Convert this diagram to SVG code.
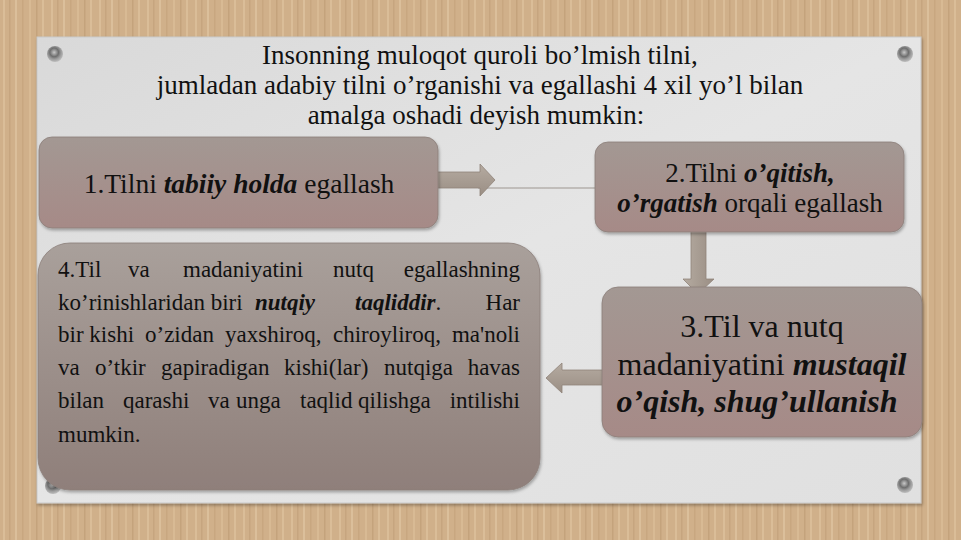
<svg xmlns="http://www.w3.org/2000/svg" width="961" height="540" viewBox="0 0 961 540">
<defs>
  <pattern id="wood" x="0" y="0" width="48" height="540" patternUnits="userSpaceOnUse">
    <rect width="48" height="540" fill="#d0b08a"/>
    <rect x="3" width="2" height="540" fill="#dabd98"/>
    <rect x="9" width="1.5" height="540" fill="#c6a57f"/>
    <rect x="15" width="2" height="540" fill="#dbbf9b"/>
    <rect x="22" width="1.5" height="540" fill="#c8a780"/>
    <rect x="29" width="2" height="540" fill="#d8ba94"/>
    <rect x="36" width="1.5" height="540" fill="#c4a37c"/>
    <rect x="42" width="2" height="540" fill="#dabd98"/>
  </pattern>
  <linearGradient id="panel" x1="0" y1="0" x2="1" y2="1">
    <stop offset="0" stop-color="#d9d9d9"/>
    <stop offset="0.5" stop-color="#e5e5e5"/>
    <stop offset="1" stop-color="#e0e0e0"/>
  </linearGradient>
  <linearGradient id="box" x1="0" y1="0" x2="0" y2="1">
    <stop offset="0" stop-color="#a39893"/>
    <stop offset="1" stop-color="#a68a87"/>
  </linearGradient>
  <linearGradient id="box4" x1="0" y1="0" x2="0" y2="1">
    <stop offset="0" stop-color="#a9a09b"/>
    <stop offset="1" stop-color="#8f7f7a"/>
  </linearGradient>
  <linearGradient id="arrowH" x1="0" y1="0" x2="0" y2="1">
    <stop offset="0" stop-color="#b5aba1"/>
    <stop offset="1" stop-color="#9a8e84"/>
  </linearGradient>
  <linearGradient id="arrowV" x1="0" y1="0" x2="1" y2="0">
    <stop offset="0" stop-color="#b5aba1"/>
    <stop offset="1" stop-color="#9a8e84"/>
  </linearGradient>
  <radialGradient id="pin" cx="0.45" cy="0.4" r="0.6">
    <stop offset="0" stop-color="#c8c8c8"/>
    <stop offset="0.45" stop-color="#6e6e6e"/>
    <stop offset="0.7" stop-color="#9a9a9a"/>
    <stop offset="1" stop-color="#bdbdbd"/>
  </radialGradient>
  <filter id="sh" x="-10%" y="-10%" width="120%" height="130%">
    <feDropShadow dx="1" dy="2" stdDeviation="1.5" flood-color="#000" flood-opacity="0.3"/>
  </filter>
</defs>
<style>
  text { fill: #111; }
  .bi { font-weight: bold; font-style: italic; }
  .node rect { stroke: #8c7f7a; stroke-width: 0.8; filter: url(#sh); }
  .arr { stroke: #8f8379; stroke-width: 0.8; }
</style>

<rect width="961" height="540" fill="url(#wood)"/>
<rect x="37" y="37" width="884" height="466" fill="url(#panel)" stroke="#c9c9c9" stroke-width="1" filter="url(#sh)"/>

<g id="pins">
  <circle cx="55" cy="54" r="8" fill="url(#pin)"/>
  <circle cx="905" cy="54" r="8" fill="url(#pin)"/>
  <circle cx="53" cy="486" r="8" fill="url(#pin)"/>
  <circle cx="905" cy="485" r="8" fill="url(#pin)"/>
</g>

<g font-family="Liberation Serif, Times New Roman, serif">
<g id="title" font-size="27" text-anchor="middle">
  <text x="480" y="64">Insonning muloqot quroli bo’lmish tilni,</text>
  <text x="480" y="94">jumladan adabiy tilni o’rganishi va egallashi 4 xil yo’l bilan</text>
  <text x="476" y="124">amalga oshadi deyish mumkin:</text>
</g>

<g id="connectors">
  <line x1="478" y1="188" x2="597" y2="188" stroke="#9d9690" stroke-width="1"/>
  <path class="arr" d="M425,172 H480 V164 L495,180 L480,196 V188 H425 Z" fill="url(#arrowH)"/>
  <rect x="425" y="172" width="5" height="16" fill="#c4b8ac" stroke="#8f8379" stroke-width="0.6"/>
  <path class="arr" d="M691,226 H706 V279 H714 L698,294 L683,279 H691 Z" fill="url(#arrowV)"/>
  <rect x="691" y="226" width="15" height="4" fill="#c4b8ac"/>
  <path class="arr" d="M618,370 H562 V363 L546,378 L562,393 V385 H618 Z" fill="url(#arrowH)"/>
</g>

<g id="node1" class="node">
  <rect x="39" y="137" width="399" height="91" rx="13" fill="url(#box)"/>
  <text x="239" y="193" font-size="27.5" text-anchor="middle">1.Tilni <tspan class="bi">tabiiy holda</tspan> egallash</text>
</g>

<g id="node2" class="node">
  <rect x="595" y="142" width="309" height="90" rx="13" fill="url(#box)"/>
  <text x="750" y="182" font-size="27" text-anchor="middle">2.Tilni <tspan class="bi">o’qitish,</tspan></text>
  <text x="750" y="212" font-size="27" text-anchor="middle"><tspan class="bi">o’rgatish</tspan> orqali egallash</text>
</g>

<g id="node3" class="node">
  <rect x="602" y="287" width="320" height="150" rx="16" fill="url(#box)"/>
  <text x="762" y="337" font-size="32" text-anchor="middle">3.Til va nutq</text>
  <text x="762" y="375" font-size="32" text-anchor="middle">madaniyatini <tspan class="bi">mustaqil</tspan></text>
  <text class="bi" x="757" y="412" font-size="32" text-anchor="middle">o’qish, shug’ullanish</text>
</g>

<g id="node4" class="node">
  <rect x="38" y="243" width="502" height="247" rx="32" fill="url(#box4)"/>
  <g font-size="23">
    <text y="277"><tspan x="58">4.Til</tspan><tspan x="128">va</tspan><tspan x="183">madaniyatini</tspan><tspan x="333">nutq</tspan></text>
    <text x="520" y="277" text-anchor="end">egallashning</text>
    <text y="310"><tspan x="58">ko’rinishlaridan biri</tspan><tspan x="255" class="bi">nutqiy</tspan><tspan x="355" class="bi">taqliddir</tspan>.</text>
    <text x="520" y="310" text-anchor="end">Har</text>
    <text y="342"><tspan x="58">bir kishi</tspan><tspan x="145">o’zidan</tspan><tspan x="225">yaxshiroq,</tspan><tspan x="333">chiroyliroq,</tspan></text>
    <text x="520" y="342" text-anchor="end">ma'noli</text>
    <text y="375"><tspan x="58">va</tspan><tspan x="95">o’tkir</tspan><tspan x="161">gapiradigan</tspan><tspan x="284">kishi(lar)</tspan><tspan x="384">nutqiga</tspan></text>
    <text x="520" y="375" text-anchor="end">havas</text>
    <text y="408"><tspan x="58">bilan</tspan><tspan x="123">qarashi</tspan><tspan x="208">va</tspan><tspan x="236">unga</tspan><tspan x="300">taqlid</tspan><tspan x="358">qilishga</tspan></text>
    <text x="520" y="408" text-anchor="end">intilishi</text>
    <text x="58" y="442">mumkin.</text>
  </g>
</g>
</g>
</svg>
